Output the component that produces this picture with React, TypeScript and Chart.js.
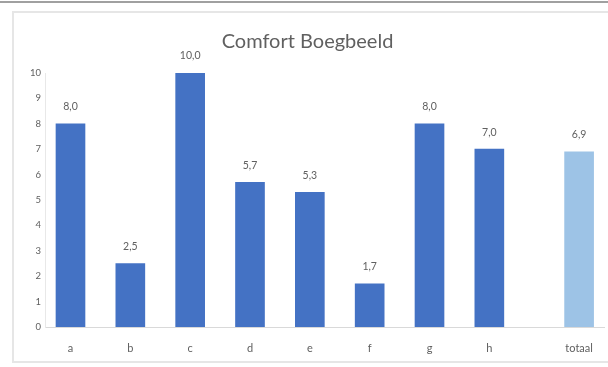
import React, { useEffect, useRef } from "react";
import { Chart, registerables } from "chart.js";

Chart.register(...registerables);

const titleText = "Comfort Boegbeeld";
const categories = ["a", "b", "c", "d", "e", "f", "g", "h", "totaal"];
const categoryPositions = [0, 1, 2, 3, 4, 5, 6, 7, 8.5];
const values = [8.0, 2.5, 10.0, 5.7, 5.3, 1.7, 8.0, 7.0, 6.9];
const yTicks = [0, 1, 2, 3, 4, 5, 6, 7, 8, 9, 10];

const FONT = 'Lato, "Open Sans", "Liberation Sans", sans-serif';
const TEXT = "#606060";
const BAR = "#4472C4";
const TOTAL = "#9DC3E6";

const fmt = (v: number) => v.toFixed(1).replace(".", ",");

const valueLabels = {
  id: "valueLabels",
  afterDatasetsDraw(chart: any) {
    const ctx = chart.ctx;
    const meta = chart.getDatasetMeta(0);
    ctx.save();
    ctx.font = `10.5px ${FONT}`;
    ctx.fillStyle = TEXT;
    ctx.textAlign = "center";
    ctx.textBaseline = "middle";
    meta.data.forEach((bar: any, i: number) => {
      ctx.fillText(fmt(values[i]), bar.x, bar.y - 17);
    });
    ctx.restore();
  },
};

export default function App() {
  const ref = useRef<HTMLCanvasElement>(null);
  useEffect(() => {
    if (!ref.current) return;
    const chart = new Chart(ref.current, {
      type: "bar",
      data: {
        datasets: [
          {
            data: categoryPositions.map((x, i) => ({ x, y: values[i] })),
            backgroundColor: (c: any) =>
              categories[c.dataIndex] === "totaal" ? TOTAL : BAR,
            barThickness: 29,
            borderWidth: 0,
          },
        ],
      },
      options: {
        animation: false,
        responsive: false,
        maintainAspectRatio: false,
        layout: { padding: { top: 22, left: 10, right: 3, bottom: 12 } },
        plugins: {
          legend: { display: false },
          tooltip: { enabled: false },
          title: {
            display: true,
            text: titleText,
            color: TEXT,
            font: { family: FONT, size: 20, weight: "normal" },
            padding: { top: 8, bottom: 19 },
          },
        },
        scales: {
          x: {
            type: "linear",
            offset: false,
            min: -0.426,
            max: 8.93,
            afterBuildTicks: (s: any) => {
              s.ticks = categoryPositions.map((v) => ({ value: v }));
            },
            afterFit: (s: any) => {
              s.height = 28;
            },
            ticks: {
              callback: (v: any) => {
                const i = categoryPositions.indexOf(Number(v));
                return i >= 0 ? categories[i] : "";
              },
              color: TEXT,
              font: { family: FONT, size: 11 },
              padding: 15,
              maxRotation: 0,
              autoSkip: false,
            },
            grid: { display: false, drawTicks: false, offset: false },
            border: { display: true, color: "#d9d9d9", width: 1 },
          },
          y: {
            min: 0,
            max: 10,
            afterBuildTicks: (s: any) => {
              s.ticks = yTicks.map((v) => ({ value: v }));
            },
            afterFit: (s: any) => {
              s.width = 35;
            },
            ticks: {
              color: TEXT,
              font: { family: FONT, size: 9.5 },
              padding: 4,
            },
            grid: { display: false, drawTicks: false },
            border: { display: true, color: "#e8e8e8", width: 1 },
          },
        },
      },
      plugins: [valueLabels],
    } as any);
    return () => chart.destroy();
  }, []);

  return (
    <div
      style={{
        position: "fixed",
        left: 0,
        top: 0,
        width: 608,
        height: 367,
        background: "#ffffff",
        overflow: "hidden",
      }}
    >
      <div
        style={{
          position: "absolute",
          left: 0,
          top: 1,
          width: 608,
          height: 2,
          background: "#a0a0a0",
        }}
      />
      <div
        style={{
          position: "absolute",
          left: 12,
          top: 11,
          width: 610,
          height: 352,
          border: "2px solid #e6e6e6",
          boxSizing: "border-box",
        }}
      />
      <canvas
        ref={ref}
        width={608}
        height={367}
        style={{ position: "absolute", left: 0, top: 0, width: 608, height: 367 }}
      />
    </div>
  );
}
